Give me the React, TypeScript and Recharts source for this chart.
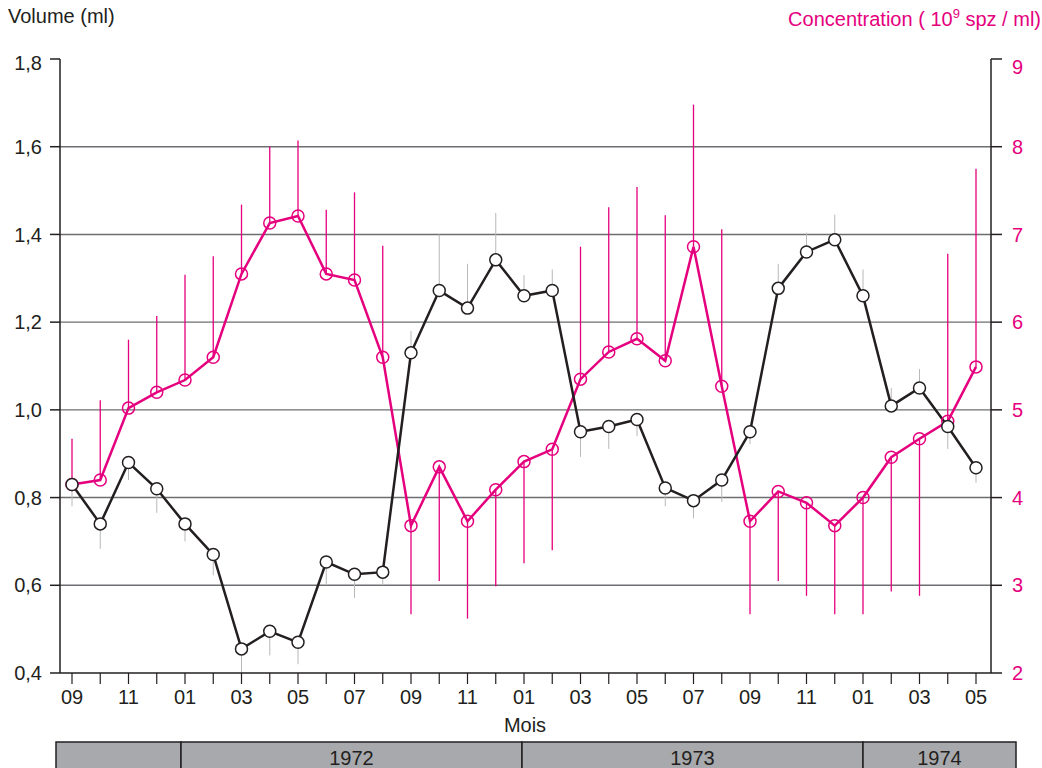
import React from "react";
import { ComposedChart, Line, XAxis, YAxis, CartesianGrid, ErrorBar } from "recharts";

const INK = "#231f20";
const MAGENTA = "#e5007e";
const FONT = "'Liberation Sans', Arial, Helvetica, sans-serif";

// months from 09/1971 to 05/1974
const months = [
  "09", "10", "11", "12", "01", "02", "03", "04", "05", "06", "07", "08",
  "09", "10", "11", "12", "01", "02", "03", "04", "05", "06", "07", "08",
  "09", "10", "11", "12", "01", "02", "03", "04", "05",
];

// volume (ml), left axis
const volume = [
  0.83, 0.74, 0.88, 0.82, 0.74, 0.67, 0.455, 0.495, 0.47, 0.653, 0.625, 0.63,
  1.13, 1.272, 1.232, 1.342, 1.26, 1.272, 0.95, 0.962, 0.978, 0.822, 0.793, 0.84,
  0.95, 1.277, 1.36, 1.388, 1.26, 1.009, 1.05, 0.962, 0.868,
];
// end of each grey deviation line
const volumeBarEnd = [
  0.78, 0.683, 0.84, 0.765, 0.7, 0.623, 0.4, 0.44, 0.42, 0.6, 0.571, 0.6,
  1.18, 1.4, 1.333, 1.449, 1.307, 1.32, 0.893, 0.911, 0.94, 0.78, 0.753, 0.79,
  0.922, 1.333, 1.404, 1.445, 1.32, 1.05, 1.093, 0.911, 0.834,
];

// concentration (10^9 spz / ml), right axis
const concentration = [
  4.15, 4.2, 5.02, 5.2, 5.34, 5.6, 6.55, 7.13, 7.21, 6.55, 6.48, 5.6,
  3.68, 4.35, 3.73, 4.09, 4.41, 4.55, 5.35, 5.66, 5.81, 5.56, 6.86, 5.27,
  3.73, 4.07, 3.94, 3.68, 4.0, 4.46, 4.67, 4.87, 5.49,
];
const concentrationBarEnd = [
  4.67, 5.11, 5.8, 6.07, 6.54, 6.75, 7.34, 8.0, 8.07, 7.28, 7.48, 6.87,
  2.67, 3.05, 2.62, 2.99, 3.25, 3.4, 6.86, 7.31, 7.54, 7.22, 8.48, 7.06,
  2.67, 3.05, 2.88, 2.67, 2.67, 2.93, 2.88, 6.78, 7.75,
];

const volumeTicks = [0.4, 0.6, 0.8, 1.0, 1.2, 1.4, 1.6, 1.8];
const gridValues = [0.6, 0.8, 1.0, 1.2, 1.4, 1.6];
const concentrationTicks = [2, 3, 4, 5, 6, 7, 8, 9];

const yearLabels = ["", "1972", "1973", "1974"];
const yearCells = [
  { x1: 56, x2: 181 },
  { x1: 181, x2: 522 },
  { x1: 522, x2: 863 },
  { x1: 863, x2: 1016 },
];

const spread = (value: number, end: number) =>
  end >= value ? [0, end - value] : [value - end, 0];

const rows = months.map((m, i) => ({
  key: `${i}`,
  month: m,
  volume: volume[i],
  volumeErr: spread(volume[i], volumeBarEnd[i]),
  concentration: concentration[i],
  concentrationErr: spread(concentration[i], concentrationBarEnd[i]),
}));

const MonthTick = (props: any) => {
  const { x, y, index } = props;
  if (index % 2 !== 0) return <g />;
  return (
    <text x={x} y={y} dy="0.71em" textAnchor="middle" fontSize={20} fill={INK} fontFamily={FONT}>
      {months[index]}
    </text>
  );
};

const VolumeTick = (props: any) => {
  const { x, y, payload } = props;
  const top = payload.value === 1.8;
  return (
    <text x={x} y={y + (top ? 4 : 0)} dy="0.355em" textAnchor="end" fontSize={20} fill={INK} fontFamily={FONT}>
      {Number(payload.value).toFixed(1).replace(".", ",")}
    </text>
  );
};

const ConcentrationTick = (props: any) => {
  const { x, y, payload } = props;
  const top = payload.value === 9;
  return (
    <text x={x} y={y + (top ? 8 : 0)} dy="0.355em" textAnchor="start" fontSize={20} fill={MAGENTA} fontFamily={FONT}>
      {payload.value}
    </text>
  );
};

export default function App() {
  return (
    <div style={{ position: "absolute", left: 0, top: 0, width: 1042, height: 768, background: "#fff", overflow: "hidden" }}>
      <ComposedChart
        width={1042}
        height={768}
        data={rows}
        margin={{ top: 59, right: 0, bottom: 55, left: 0 }}
        style={{ fontFamily: FONT }}
      >
        <CartesianGrid
          yAxisId="vol"
          vertical={false}
          horizontalValues={gridValues}
          stroke="#6d6e71"
          strokeWidth={1.4}
        />
        <XAxis
          dataKey="key"
          type="category"
          scale="point"
          interval={0}
          padding={{ left: 12, right: 15 }}
          height={40}
          tickSize={11}
          tickMargin={6}
          axisLine={{ stroke: INK, strokeWidth: 1.5 }}
          tickLine={{ stroke: INK, strokeWidth: 1.2 }}
          tick={<MonthTick />}
        />
        <YAxis
          yAxisId="vol"
          orientation="left"
          width={60}
          domain={[0.4, 1.8]}
          ticks={volumeTicks}
          interval={0}
          tickSize={10}
          tickMargin={8}
          axisLine={{ stroke: INK, strokeWidth: 1.5 }}
          tickLine={{ stroke: INK, strokeWidth: 1.5 }}
          tick={<VolumeTick />}
        />
        <YAxis
          yAxisId="conc"
          orientation="right"
          width={51}
          domain={[2, 9]}
          ticks={concentrationTicks}
          interval={0}
          tickSize={11}
          tickMargin={10}
          axisLine={{ stroke: INK, strokeWidth: 1.5 }}
          tickLine={{ stroke: INK, strokeWidth: 1.5 }}
          tick={<ConcentrationTick />}
        />
        <Line
          yAxisId="conc"
          dataKey="concentration"
          type="linear"
          stroke={MAGENTA}
          strokeWidth={2.5}
          dot={{ r: 6, fill: "none", stroke: MAGENTA, strokeWidth: 1.5 }}
          isAnimationActive={false}
        >
          <ErrorBar dataKey="concentrationErr" direction="y" width={0} stroke={MAGENTA} strokeWidth={1.3} isAnimationActive={false} />
        </Line>
        <Line
          yAxisId="vol"
          dataKey="volume"
          type="linear"
          stroke={INK}
          strokeWidth={2.5}
          dot={{ r: 6, fill: "#fff", stroke: INK, strokeWidth: 1.5 }}
          isAnimationActive={false}
        >
          <ErrorBar dataKey="volumeErr" direction="y" width={0} stroke="#b8b8b8" strokeWidth={1} isAnimationActive={false} />
        </Line>
      </ComposedChart>

      <svg
        width={1042}
        height={768}
        style={{ position: "absolute", left: 0, top: 0, pointerEvents: "none", fontFamily: FONT }}
      >
        <text x={8} y={23} fontSize={20} fill={INK}>Volume (ml)</text>
        <text x={1041} y={26} fontSize={20} fill={MAGENTA} textAnchor="end">
          Concentration ( 10<tspan dy={-8} fontSize={13}>9</tspan>
          <tspan dy={8}> spz / ml)</tspan>
        </text>
        <text x={525} y={732} fontSize={20} fill={INK} textAnchor="middle">Mois</text>
        {yearCells.map((c, i) => (
          <g key={i}>
            <rect x={c.x1} y={742} width={c.x2 - c.x1} height={40} fill="#a7a9ac" stroke={INK} strokeWidth={1.5} />
            <text x={(c.x1 + c.x2) / 2} y={765} fontSize={20} fill={INK} textAnchor="middle">
              {yearLabels[i]}
            </text>
          </g>
        ))}
      </svg>
    </div>
  );
}
